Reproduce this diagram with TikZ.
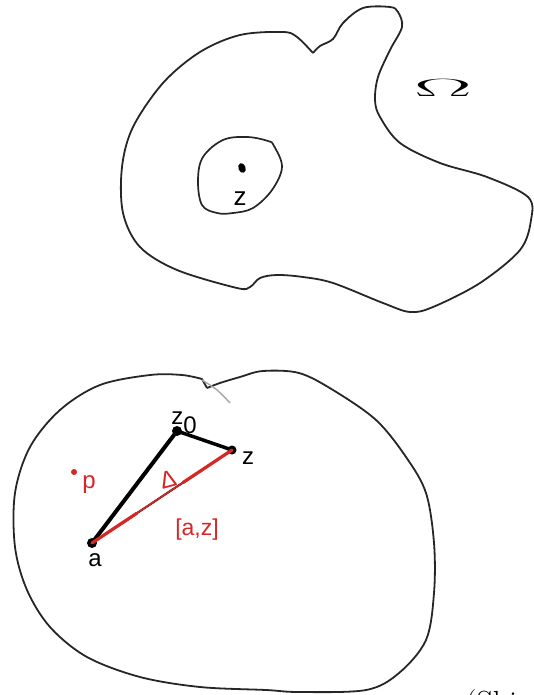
\documentclass[tikz,border=0pt]{standalone}
\usepackage{fontspec}
\usetikzlibrary{calc}
\newfontfamily\lab{Liberation Sans}
\definecolor{myred}{RGB}{214,38,38}
\begin{document}
\begin{tikzpicture}[x=1pt,y=-1pt,
  outline/.style={draw=black!85,line width=1.8pt,line join=round},
  dotb/.style={circle,fill=black,inner sep=0pt,minimum size=10pt},
  labb/.style={font=\lab\fontsize{24}{24}\selectfont,inner sep=0pt,anchor=base},
  labr/.style={labb,text=myred},
  edge/.style={line width=4pt,line cap=round}]
\useasboundingbox (0,0) rectangle (533,695);
% ---------- top region Omega ----------
\draw[outline] plot[smooth,tension=0.55] coordinates{
 (313,53) (320,46) (333,39) (343,23) (363,8) (390,7) (398,12) (402,27) (390,50) (378,77)
 (375,100) (380,117) (400,143) (440,163) (487,177) (528,197) (531,220) (520,250) (480,283)
 (433,307) (410,312) (383,303) (333,283) (303,277) (277,275) (260,278) (250,287) (237,288)
 (177,270) (140,247) (123,213) (122,167) (133,127) (163,83) (200,52) (240,35) (283,32)
 (297,37) (313,53)};
\draw[outline,line width=1.7pt] plot[smooth cycle,tension=0.6] coordinates{
 (198,180) (203,157) (223,140) (247,137) (268,141) (274,146) (282,167) (272,190)
 (253,208) (233,213) (217,213) (202,205)};
\fill[black] (242,168) ellipse [x radius=3.6pt,y radius=5pt,rotate=20];
\node[labb,font=\lab\fontsize{26}{26}\selectfont] (ztop) at (240,205) {z};
\node[inner sep=0pt,font=\fontsize{24}{24}\selectfont,xscale=3.5,yscale=1.0] (omega) at (443,88) {$\Omega$};
% ---------- bottom region ----------
\draw[outline] plot[smooth,tension=0.55] coordinates{
 (207,388) (220,383) (240,377) (263,371) (299,373) (333,390) (376,420) (406,457) (426,493)
 (434,543) (434,593) (426,640) (399,673) (366,690) (299,692) (266,690) (200,687) (140,677)
 (87,657) (50,627) (27,590) (15,547) (15,493) (30,447) (60,410) (100,385) (150,375)
 (182,375) (202,379)} -- (207,388);
\draw[black!35,line width=1.4pt] plot[smooth,tension=0.6] coordinates{(202,380) (217,390) (230,403)};
% points
\node[dotb] (a) at (92,543) {};
\node[dotb] (z0) at (177,431) {};
\node[dotb,minimum size=9pt] (z) at (232,450) {};
\node[circle,fill=myred,inner sep=0pt,minimum size=6pt] (p) at (74,472) {};
% segments
\draw[edge] (a.center) -- (z0.center);
\draw[edge,line width=3.5pt] (z0.center) -- (z.center);
\draw[line width=2pt,black] (a.center) -- (z.center);
\draw[line width=3.2pt,myred,line cap=round] (a.center) -- ($(a.center)!0.32!(z.center)$);
\draw[line width=3.2pt,myred,line cap=round] ($(a.center)!0.65!(z.center)$) -- (z.center);
\draw[line width=1.6pt,myred] ($(a.center)!0.32!(z.center)$) -- ($(a.center)!0.65!(z.center)$);
% labels
\node[labb] (lz0) at (184,424) {z\raisebox{-9pt}{0}};
\node[labb] (lz) at (248,464) {z};
\node[labb] (la) at (95,566) {a};
\node[labr] (lp) at (89,488) {p};
\node[labr,font=\lab\fontsize{23}{23}\selectfont] (laz) at (197,535) {[a,z]};
\node[text=myred,inner sep=0pt,font=\lab\fontsize{24}{24}\selectfont,rotate=15] (ldelta) at (168,479) {Δ};
% caption, cut at the bottom edge
\node[inner sep=0pt,anchor=base west,font=\fontsize{32}{32}\selectfont] (cap) at (465,713) {(Shi};
\end{tikzpicture}
\end{document}
